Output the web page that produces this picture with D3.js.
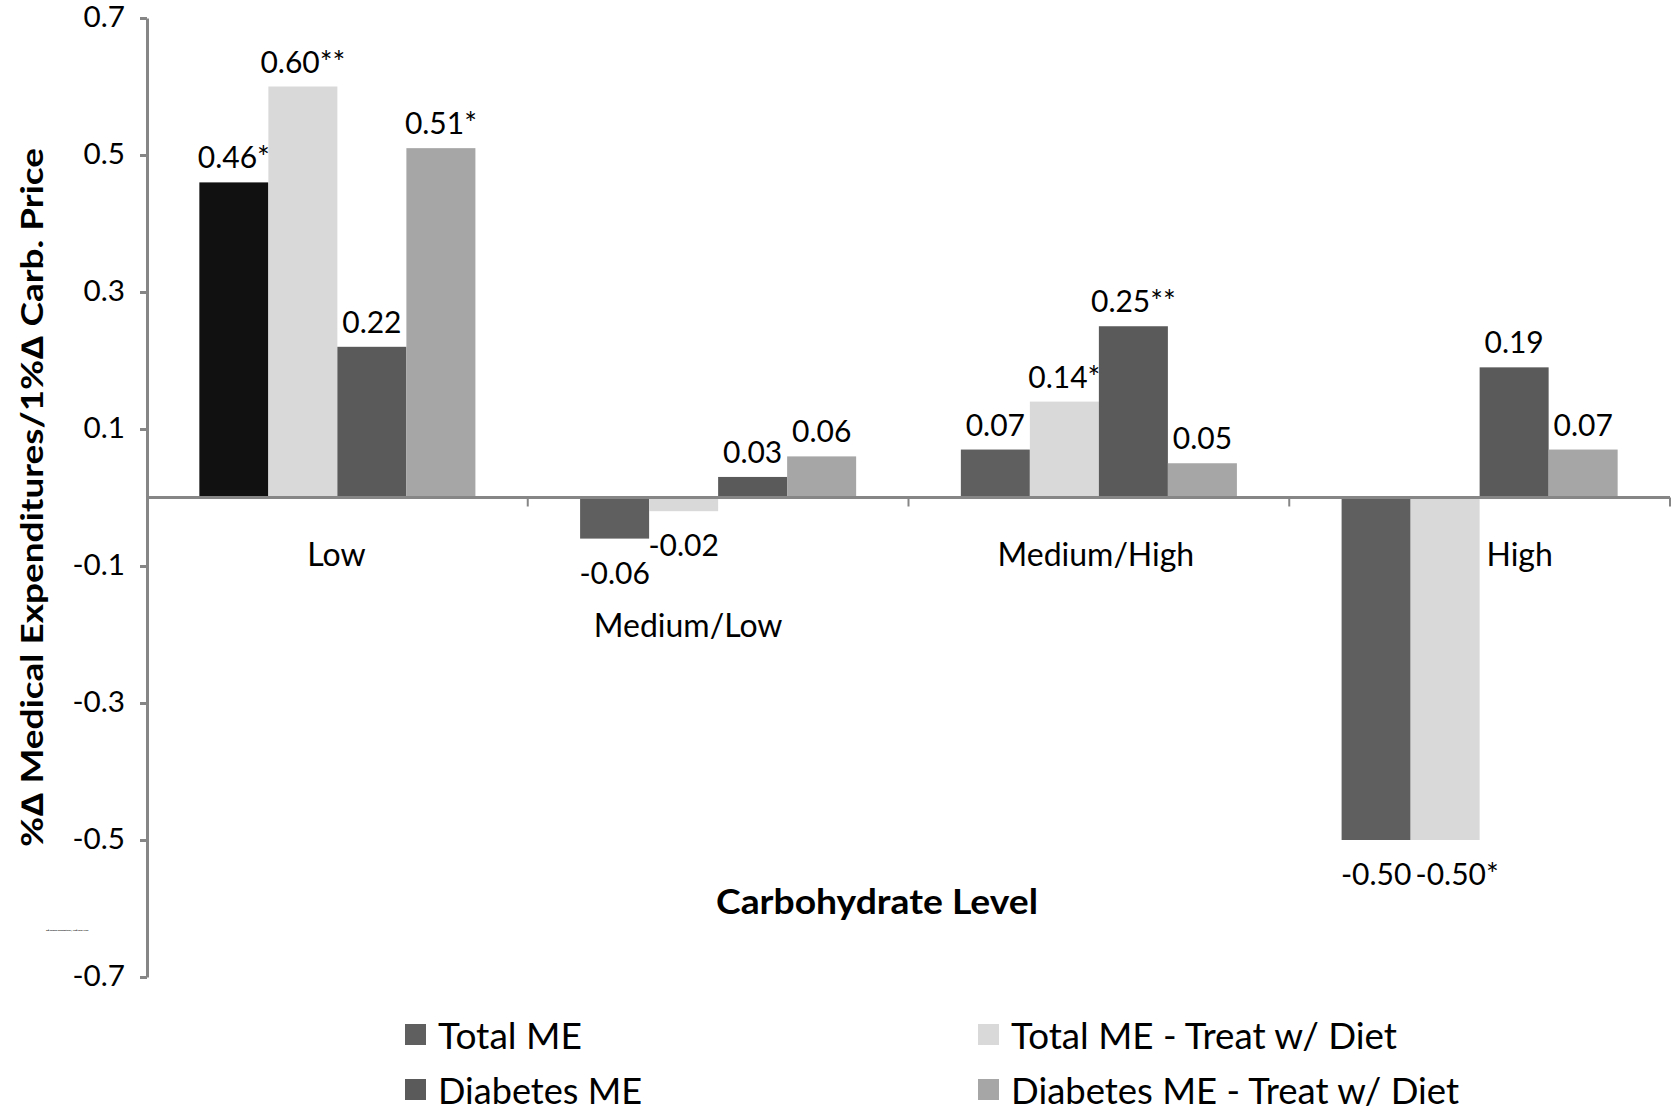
<!DOCTYPE html>
<html><head><meta charset="utf-8">
<script src="https://cdn.jsdelivr.net/npm/d3@7"></script>
<style>
html,body{margin:0;padding:0;background:#fff;}
svg{display:block;}
text{font-family:Lato,"Open Sans",sans-serif;fill:#000;}
</style></head>
<body>
<svg id="chart" width="1673" height="1111"></svg>
<script>
// ---- data ----
const categories = ["Low", "Medium/Low", "Medium/High", "High"];
const seriesNames = ["Total ME", "Total ME - Treat w/ Diet", "Diabetes ME", "Diabetes ME - Treat w/ Diet"];
const totalME = [0.46, -0.06, 0.07, -0.50];
const totalMETreat = [0.60, -0.02, 0.14, -0.50];
const diabetesME = [0.22, 0.03, 0.25, 0.19];
const diabetesMETreat = [0.51, 0.06, 0.05, 0.07];
const totalMELabels = ["0.46*", "-0.06", "0.07", "-0.50"];
const totalMETreatLabels = ["0.60**", "-0.02", "0.14*", "-0.50*"];
const diabetesMELabels = ["0.22", "0.03", "0.25**", "0.19"];
const diabetesMETreatLabels = ["0.51*", "0.06", "0.05", "0.07"];
const yTicks = [-0.7, -0.5, -0.3, -0.1, 0.1, 0.3, 0.5, 0.7];
const yTitle = "%\u2206 Medical Expenditures/1%\u2206 Carb. Price";
const xTitle = "Carbohydrate Level";

// ---- styling / layout ----
const seriesColors = ["#5f5f5f", "#d9d9d9", "#5a5a5a", "#a6a6a6"];
const highlight = {series: 0, category: 0, color: "#111111"};
const catLabelShift = [{dx: -1, dy: 0}, {dx: -30, dy: 71}, {dx: -3, dy: 0}, {dx: 40, dy: 0}];
const labelShift = {series: 1, category: 3, dx: 12};

const svg = d3.select("#chart");
const pLeft = 147, pRight = 1670, pTop = 18, pBottom = 977;

const y = d3.scaleLinear().domain([-0.7, 0.7]).range([pBottom, pTop]);
const x0 = d3.scaleBand().domain(categories).range([pLeft, pRight]).paddingInner(0.275).paddingOuter(0.1375);
const x1 = d3.scaleBand().domain(seriesNames).range([0, x0.bandwidth()]).padding(0);

const seriesValues = [totalME, totalMETreat, diabetesME, diabetesMETreat];
const seriesLabels = [totalMELabels, totalMETreatLabels, diabetesMELabels, diabetesMETreatLabels];

const rows = [];
seriesNames.forEach((s, si) => {
  categories.forEach((c, ci) => {
    rows.push({s, si, c, ci, v: seriesValues[si][ci], label: seriesLabels[si][ci]});
  });
});

// bars
svg.append("g").selectAll("rect").data(rows).join("rect")
  .attr("x", d => x0(d.c) + x1(d.s))
  .attr("width", x1.bandwidth())
  .attr("y", d => y(Math.max(0, d.v)))
  .attr("height", d => Math.abs(y(d.v) - y(0)))
  .attr("fill", d => (d.si === highlight.series && d.ci === highlight.category) ? highlight.color : seriesColors[d.si]);

// y axis
const yAxis = d3.axisLeft(y).tickValues(yTicks).tickFormat(d => d.toFixed(1)).tickSize(7).tickPadding(15).tickSizeOuter(0);
const gy = svg.append("g").attr("transform", `translate(${pLeft},0)`).call(yAxis);
gy.select(".domain").attr("stroke", "#868686").attr("stroke-width", 3);
gy.selectAll(".tick line").attr("stroke", "#868686").attr("stroke-width", 3);
gy.selectAll(".tick text").attr("font-size", 28).attr("font-family", "Lato").attr("fill", "#000")
  .attr("textLength", function() { return this.getComputedTextLength() * 1.06; })
  .attr("lengthAdjust", "spacingAndGlyphs");

// x axis (zero line) with category boundary ticks
const gx = svg.append("g");
gx.append("line").attr("x1", pLeft).attr("x2", pRight).attr("y1", y(0)).attr("y2", y(0))
  .attr("stroke", "#868686").attr("stroke-width", 3);
const step = x0.step();
categories.forEach((c, i) => {
  const xb = x0(c) - x0.paddingOuter() * step + step; // right boundary
  gx.append("line").attr("x1", xb).attr("x2", xb).attr("y1", y(0)).attr("y2", y(0) + 9)
    .attr("stroke", "#868686").attr("stroke-width", 2);
});

// category labels
svg.append("g").selectAll("text").data(categories).join("text")
  .attr("x", (d, i) => x0(d) + x0.bandwidth() / 2 + catLabelShift[i].dx)
  .attr("y", (d, i) => y(0) + 56 + catLabelShift[i].dy)
  .attr("text-anchor", "middle").attr("dominant-baseline", "central")
  .attr("font-size", 32).text(d => d);

// data labels
svg.append("g").selectAll("text").data(rows).join("text")
  .attr("x", d => x0(d.c) + x1(d.s) + x1.bandwidth() / 2 +
    ((d.si === labelShift.series && d.ci === labelShift.category) ? labelShift.dx : 0))
  .attr("y", d => d.v >= 0 ? y(d.v) - 26 : y(d.v) + 33)
  .attr("text-anchor", "middle").attr("dominant-baseline", "central")
  .attr("font-size", 30).text(d => d.label);

// y title
svg.append("text")
  .attr("transform", `translate(31,${(pTop + pBottom) / 2}) rotate(-90)`)
  .attr("text-anchor", "middle").attr("dominant-baseline", "central")
  .attr("font-size", 30).attr("font-weight", "bold")
  .attr("textLength", 699).attr("lengthAdjust", "spacingAndGlyphs")
  .text(yTitle);

// x title
svg.append("text")
  .attr("x", 877).attr("y", 900)
  .attr("text-anchor", "middle").attr("dominant-baseline", "central")
  .attr("font-size", 34).attr("font-weight", "bold")
  .attr("textLength", 322).attr("lengthAdjust", "spacingAndGlyphs")
  .text(xTitle);

// tiny stray title text
svg.append("text")
  .attr("x", 46).attr("y", 931)
  .attr("font-size", 2.2).attr("font-weight", "bold")
  .text("%\u2206 Medical Expenditures / 1%\u2206 Carb. Price");

// legend
const legendPos = [{x: 405, y: 1035}, {x: 978, y: 1035}, {x: 405, y: 1090}, {x: 978, y: 1090}];
const legendWidths = [144, 386, 204, 448];
const lg = svg.append("g").selectAll("g").data(seriesNames).join("g")
  .attr("transform", (d, i) => `translate(${legendPos[i].x},${legendPos[i].y})`);
lg.append("rect").attr("x", 0).attr("y", -11).attr("width", 21).attr("height", 21)
  .attr("fill", (d, i) => seriesColors[i]);
lg.append("text").attr("x", 33).attr("y", 0).attr("dominant-baseline", "central")
  .attr("font-family", "'Liberation Sans Narrow', 'Liberation Sans', sans-serif")
  .attr("font-size", 36)
  .attr("textLength", (d, i) => legendWidths[i]).attr("lengthAdjust", "spacingAndGlyphs")
  .text(d => d);
</script>
</body></html>
